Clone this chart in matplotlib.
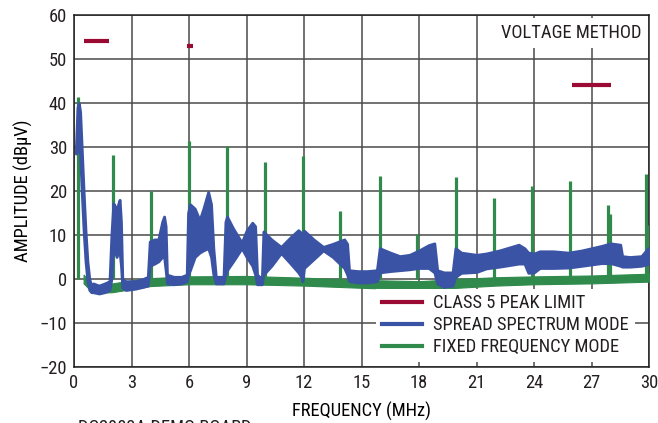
import matplotlib
matplotlib.use("Agg")
import matplotlib.pyplot as plt
from matplotlib.lines import Line2D

### fonts: narrow sans first, falls back if missing
plt.rcParams['font.family'] = ['Roboto Condensed', 'Liberation Sans Narrow', 'Roboto', 'DejaVu Sans']
FS = 13.3
plt.rcParams['font.size'] = FS
plt.rcParams['text.color'] = '#231f20'

### data
# class 5 peak limit segments (MHz start, MHz end, dBuV)
limit_start = [0.53, 5.9, 26.0]
limit_end = [1.8, 6.2, 28.0]
limit_level = [54, 53, 44]

# spread spectrum mode: band envelope (upper / lower)
ss_freq = [0.10, 0.18, 0.25, 0.32, 0.40, 0.50, 0.60, 0.70, 0.80, 0.90,
           1.0, 1.3, 1.6, 1.85, 1.95, 2.05, 2.15, 2.22, 2.30, 2.38, 2.45, 2.52,
           2.7, 3.2, 3.6, 3.85, 3.95, 4.2, 4.4, 4.6, 4.7, 4.78, 4.85,
           5.2, 5.6, 5.88, 5.95, 6.05, 6.3, 6.55, 6.75, 7.0, 7.15, 7.27, 7.4,
           7.8, 7.9, 7.98, 8.3, 8.75, 9.0, 9.3, 9.45, 9.55, 9.8,
           9.88, 10.3, 10.8, 11.3, 11.7, 11.85, 11.92, 12.0, 12.5, 13.0, 13.5,
           14.1, 14.25, 14.35, 14.8, 15.3, 15.8, 15.95, 16.5, 17.0, 17.5, 18.0,
           18.5, 18.8, 18.95, 19.3, 19.75, 19.9, 20.2, 21.0, 21.5, 22.2, 23.2,
           23.5, 23.7, 24.0, 24.3, 25.0, 25.8, 26.5, 27.5, 28.0, 28.5, 28.6,
           29.0, 29.6, 29.95]
ss_hi = [30, 39, 40, 38, 30, 20, 11, 4, 0, -1.5,
         -1, -1.5, -1, -0.5, 10, 17.2, 16.5, 14, 17, 18, 13, 0,
         -0.5, -0.5, 0, 0.5, 8.5, 9, 9, 13, 14.2, 12, 1,
         0.5, 0.5, 1, 15, 17, 16, 13.4, 16, 19.8, 17, 7, 0.5,
         0.5, 13, 14.2, 11.5, 8.3, 11, 12.8, 12, 1, 0,
         10.8, 9, 7.3, 9.5, 11.1, 10.5, 9, 11, 9, 7.3, 8,
         9, 8, 2, 1.8, 1.8, 2, 7, 6, 5.2, 5.5, 6.5,
         7.7, 8.1, 2, 1.5, 1.5, 7, 6, 5.5, 5.8, 6.5, 7.8,
         7, 6, 5.8, 6.3, 6.3, 6, 6.5, 7.5, 8.1, 7.8, 5.2,
         5, 5.2, 7]
ss_lo = [28.5, 29, 32, 28, 20, 11, 4, -0.5, -2.5, -3,
         -3, -3.3, -3, -2.5, 0, 8, 6, 5, 6, 6, 3, -2,
         -2.5, -2.2, -1.8, -1.5, 3, 3.5, 4, 5, 5, 2, -1,
         -1.2, -1, -0.5, 1, 2, 5, 6, 6.5, 7, 5, 1, -1,
         -1, 1, 2, 4, 7, 5, 3, 1, -1.2, -1.2,
         1, 3, 5.9, 3.5, 1.5, 0.5, -0.5, 2.5, 4.5, 6.5, 5,
         2.5, 1, -0.5, -0.8, -0.8, -0.5, 1.5, 1.8, 2, 2.2, 2.5,
         2.5, 1.5, -1, -1.8, -1.5, 0.5, 1.4, 1.6, 2.4, 2.8, 3.5,
         3.5, 1.4, 1.5, 2.5, 2.5, 2.6, 3, 3.6, 3.6, 3, 2.8,
         2.8, 3, 3.4]

# fixed frequency mode: noise floor band and harmonic spikes
ff_freq = [0.5, 1.0, 2.0, 3.0, 4.0, 6.0, 9.0, 12.0, 15.0, 18.0, 20.0, 22.0, 24.0, 27.0, 30.0]
ff_lo = [-1.0, -3.2, -3.0, -2.3, -1.6, -1.2, -1.2, -1.5, -2.0, -2.4, -2.0, -1.5, -1.2, -1.0, -0.6]
ff_hi = [1.0, -1.5, -1.0, -0.3, 0.2, 0.6, 0.7, 0.3, -0.2, -0.5, 0.0, 0.4, 0.6, 0.8, 1.2]
spike_freq = [0.23, 2.02, 4.0, 6.0, 7.98, 9.97, 11.95, 13.9, 15.95, 17.9,
              19.93, 21.9, 23.9, 25.9, 27.86, 27.98, 29.85, 29.98]
spike_amp = [41.3, 28.1, 19.9, 31.4, 30.2, 26.6, 28.0, 15.5, 23.3, 10.2,
             23.1, 18.3, 21.1, 22.3, 16.8, 14.8, 23.9, 12.3]

x_ticks = [0, 3, 6, 9, 12, 15, 18, 21, 24, 27, 30]
y_ticks = [-20, -10, 0, 10, 20, 30, 40, 50, 60]

red = '#9b0a32'
blue = '#3a53a4'
green = '#2f8a4c'

fig = plt.figure(figsize=(6.58, 4.23), dpi=100)
ax = fig.add_axes([74/658, 1-367/423, (649-74)/658, (367-15)/423])

### fixed frequency (drawn first, spread spectrum sits on top)
ax.fill_between(ff_freq, ff_lo, ff_hi, color=green, lw=0.8, zorder=3)
ax.vlines(spike_freq, 0, spike_amp, color=green, lw=2.3, zorder=3)

### spread spectrum band
ax.fill_between(ss_freq, ss_lo, ss_hi, facecolor=blue, edgecolor=blue, lw=2.0, zorder=4)

### class 5 limits
ax.hlines(limit_level, limit_start, limit_end, color=red, lw=3, zorder=5)

ax.set_xlim(0, 30)
ax.set_ylim(-20, 60)
ax.set_xticks(x_ticks)
ax.set_yticks(y_ticks)
ax.set_yticklabels([str(v).replace('-', '\u2212') for v in y_ticks])
ax.tick_params(length=0, pad=5, labelsize=FS, colors='#231f20')
ax.grid(True, color='#4a4a4a', lw=1.1, zorder=1)
ax.set_axisbelow(True)
for s in ax.spines.values():
    s.set_color('#231f20')
    s.set_linewidth(1.1)

ax.set_xlabel('FREQUENCY (MHz)', fontsize=FS, labelpad=7)
ax.set_ylabel('AMPLITUDE (dB\u00b5V)', fontsize=FS, labelpad=5)

ax.text(29.6, 55.9, 'VOLTAGE METHOD', ha='right', va='center', fontsize=FS, zorder=6,
        bbox=dict(facecolor='white', edgecolor='none', pad=4))

handles = [Line2D([], [], color=red, lw=3),
           Line2D([], [], color=blue, lw=3),
           Line2D([], [], color=green, lw=3)]
labels = ['CLASS 5 PEAK LIMIT', 'SPREAD SPECTRUM MODE', 'FIXED FREQUENCY MODE']
leg = ax.legend(handles, labels, loc='lower right', bbox_to_anchor=(0.975, 0.015),
                frameon=True, fancybox=False, framealpha=1, edgecolor='none',
                facecolor='white', fontsize=FS, handlelength=2.2,
                handletextpad=0.6, labelspacing=0.22, borderpad=0.3, borderaxespad=0)
leg.set_zorder(6)

fig.text(78/658, 1-419/423, 'DC2983A DEMO BOARD', ha='left', va='top', fontsize=FS)

fig.savefig('out.png', dpi=100)
